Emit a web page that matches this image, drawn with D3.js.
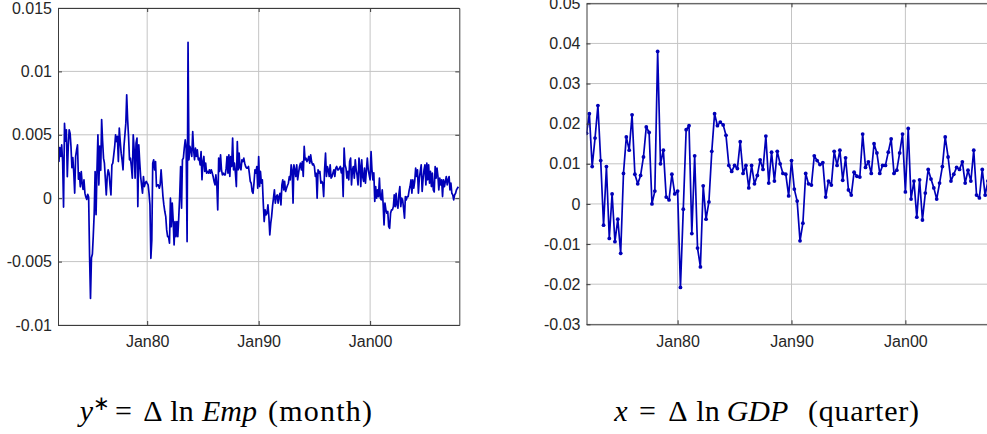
<!DOCTYPE html>
<html>
<head>
<meta charset="utf-8">
<script src="https://cdn.jsdelivr.net/npm/d3@7"></script>
<style>
  body { margin: 0; background: #fff; }
  svg { display: block; }
</style>
</head>
<body>
<svg id="chart" width="987" height="434"></svg>
<script>
// monthly log change of payroll employment, Jan 1972 .. Dec 2007 (one row per year)
var empGrowth = [
  0.0045, 0.0029, 0.0040, 0.0033, 0.0042, 0.0029, -0.0007, 0.0059, 0.0045, 0.0054, 0.0017, 0.0040,
  0.0054, 0.0051, 0.0041, 0.0024, 0.0032, 0.0020, 0.0004, 0.0033, 0.0038, 0.0042, 0.0015, 0.0020,
  0.0009, 0.0021, 0.0012, 0.0007, 0.00145, 0.0004, 0.0001, -0.0001, 0.0003, 0.0001, -0.0046, -0.0079,
  -0.0047, -0.0044, -0.0030, -0.0012, 0.0021, -0.0013, 0.0022, 0.0050, 0.00105, 0.0041, 0.0022, 0.0062,
  0.0045, 0.00316, 0.00276, 0.0015, 0.00026, 0.00171, 0.00224, 0.00197, 0.0010, 0.00026, 0.00263, 0.00276,
  0.00342, 0.00408, 0.0050, 0.00447, 0.00487, 0.00289, 0.00553, 0.00447, 0.00355, 0.0030, 0.00224, 0.00408,
  0.0050, 0.00592, 0.00816, 0.00618, 0.00487, 0.00303, 0.00316, 0.0025, 0.00158, 0.0050, 0.00382, 0.00158,
  0.00434, 0.00474, -0.00066, 0.00421, 0.00289, 0.00171, 0.00105, 0.00039, 0.00171, 0.00092, 0.0012, 0.00132,
  0.00118, 0.00105, 0.0004, -0.00053, -0.00474, -0.00329, 0.00276, 0.00303, 0.00224, 0.00289, 0.00092, 0.00105,
  0.00105, 0.00079, 0.00105, 0.00224, 0.0012, 0.00013, -0.00053, -0.00105, -0.00145, -0.0025, -0.00303, -0.00303,
  -0.00355, 0.0, -0.00224, -0.00039, -0.00171, -0.00368, -0.00184, -0.00303, -0.00184, -0.00303, -0.0015, 0.00013,
  0.0025, -0.00079, 0.00303, 0.00316, 0.00395, 0.00461, 0.0040, -0.00342, 0.0123, 0.00303, 0.00408, 0.00382,
  0.00329, 0.00526, 0.00382, 0.00303, 0.00395, 0.00329, 0.00382, 0.00303, 0.00316, 0.00263, 0.00368, 0.00145,
  0.00289, 0.00329, 0.00211, 0.00276, 0.00197, 0.00211, 0.00197, 0.00224, 0.00197, 0.00224, 0.0020, 0.00171,
  0.00132, 0.00105, 0.00184, 0.00105, -0.00092, 0.00316, 0.00211, 0.00342, 0.00224, 0.00184, 0.00197, 0.00184,
  0.00184, 0.00237, 0.00329, 0.00197, 0.00342, 0.00171, 0.00329, 0.0025, 0.00474, 0.00224, 0.00276, 0.0020,
  0.00092, 0.00447, 0.00224, 0.00355, 0.00237, 0.00224, 0.00303, 0.00289, 0.00316, 0.00276, 0.0025, 0.00237,
  0.00237, 0.0025, 0.00197, 0.00132, 0.00118, 0.00053, 0.00039, 0.0012, 0.00224, 0.00197, 0.0025, 0.00079,
  0.00329, 0.00092, 0.00211, 0.00118, 0.00145, -0.00039, -0.00184, -0.00092, -0.00132, -0.00118, -0.00053, -0.00145,
  -0.00289, -0.00197, -0.00145, -0.0006, 0.0, 0.00066, -0.00039, 0.00013, 0.00026, -0.00039, 0.00013, 0.00039,
  -0.00053, 0.00105, 0.00145, 0.00066, 0.00132, 0.00053, 0.00079, 0.0010, 0.00118, 0.00171, 0.00145, 0.00263,
  0.00224, -0.00039, 0.00263, 0.00224, 0.00171, 0.00263, 0.00145, 0.0020, 0.0025, 0.00276, 0.00224, 0.00289,
  0.00171, 0.00408, 0.00303, 0.00316, 0.00289, 0.00303, 0.00329, 0.00276, 0.00342, 0.00289, 0.00263, 0.0027,
  0.0025, 0.00171, 0.00197, 0.0, 0.00224, 0.00197, 0.00211, 0.00118, 0.00132, 0.00118, 0.00013, 0.00224,
  0.00355, 0.00171, 0.0025, 0.00224, 0.00171, 0.00263, 0.00158, 0.00171, 0.0020, 0.00224, 0.00171, 0.00237,
  0.0025, 0.00224, 0.00224, 0.00237, 0.0025, 0.0020, 0.00237, 0.00013, 0.00395, 0.00263, 0.00237, 0.00158,
  0.00211, 0.00145, 0.00289, 0.00316, 0.00105, 0.00224, 0.0025, 0.00158, 0.00303, 0.00224, 0.0018, 0.00105,
  0.00316, 0.0025, 0.00092, 0.00303, 0.00171, 0.00132, 0.00237, 0.00118, 0.0022, 0.00316, 0.00224, 0.00184,
  0.00145, 0.00368, 0.00224, 0.00145, 0.0020, -0.00026, 0.00092, 0.0, 0.00066, 0.00013, 0.00158, 0.0,
  -0.00013, 0.00066, -0.00039, -0.00211, -0.00039, -0.00092, -0.00118, -0.00105, -0.00224, -0.00237, -0.00118, -0.00092,
  -0.00092, -0.00066, 0.00026, -0.00066, 0.00039, -0.00053, -0.00079, 0.0003, 0.00092, -0.00066, 0.0, -0.00013,
  -0.00079, -0.00158, 0.00013, -0.00013, 0.00013, 0.00013, 0.0006, 0.00092, 0.00145, 0.00039, 0.00145, 0.00079,
  0.00132, 0.00237, 0.00171, 0.00224, 0.00039, 0.00158, 0.00211, 0.00263, 0.00053, 0.0015, 0.00224, 0.00263,
  0.00105, 0.00276, 0.00145, 0.00263, 0.00118, 0.00211, 0.00092, 0.00197, 0.00066, 0.0005, 0.0025, 0.00158,
  0.00237, 0.00171, 0.00066, 0.00158, 0.00105, 0.00145, 0.00013, 0.00145, 0.00092, 0.0013, 0.00171, 0.00105,
  0.00145, 0.00171, 0.00066, 0.0012, 0.00039, 0.00026, -0.00013, 0.00026, 0.00039, 0.00066, 0.00079, 0.0009
];

// quarterly log change of real GDP, 1972Q1 .. 2007Q4 (one row per year)
var gdpGrowth = [
  0.0176, 0.0225, 0.0093, 0.0164,
  0.0245, 0.0108, -0.0053, 0.0093,
  -0.0086, 0.0025, -0.0094, -0.0038,
  -0.0123, 0.0076, 0.0167, 0.0134,
  0.0222, 0.0074, 0.0050, 0.0071,
  0.0117, 0.0192, 0.0178, 0.0000,
  0.0032, 0.0380, 0.0100, 0.0134,
  0.0017, 0.0010, 0.0074, 0.0025,
  0.0032, -0.0208, -0.0013, 0.0185,
  0.0195, -0.0074, 0.0120, -0.0110,
  -0.0157, 0.0045, -0.0038, 0.0005,
  0.0131, 0.0225, 0.0195, 0.0204,
  0.0197, 0.0171, 0.0096, 0.0081,
  0.0096, 0.0088, 0.0155, 0.0076,
  0.0096, 0.0040, 0.0096, 0.0050,
  0.0071, 0.0110, 0.0086, 0.0169,
  0.0052, 0.0129, 0.0057, 0.0131,
  0.0100, 0.0076, 0.0074, 0.0020,
  0.0108, 0.0037, 0.0007, -0.0092,
  -0.0048, 0.0076, 0.0050, 0.0047,
  0.0120, 0.0108, 0.0098, 0.0103,
  0.0017, 0.0057, 0.0047, 0.0131,
  0.0096, 0.0134, 0.0059, 0.0115,
  0.0035, 0.0022, 0.0079, 0.0069,
  0.0067, 0.0174, 0.0091, 0.0105,
  0.0076, 0.0150, 0.0127, 0.0076,
  0.0096, 0.0096, 0.0129, 0.0162,
  0.0076, 0.0084, 0.0127, 0.0174,
  0.0030, 0.0188, 0.0012, 0.0057,
  -0.0033, 0.0060, -0.0040, 0.0027,
  0.0086, 0.0062, 0.0040, 0.0012,
  0.0052, 0.0093, 0.0167, 0.0117,
  0.0057, 0.0074, 0.0091, 0.0086,
  0.0105, 0.0052, 0.0084, 0.0057,
  0.0134, 0.0022, 0.0015, 0.0086,
  0.0022, 0.0057, 0.0054, 0.0062
];

var empTicks = [-0.01, -0.005, 0, 0.005, 0.01, 0.015];
var gdpTicks = [-0.03, -0.02, -0.01, 0, 0.01, 0.02, 0.03, 0.04, 0.05];
var yearTicks = [1980, 1990, 2000];
var startYear = 1972, endYear = 2008;

var svg = d3.select("#chart");
var lineColor = "#0000b8";
var axisColor = "#3c3c3c";
var gridColor = "#c4c4c4";

function drawPanel(values, stepMonths, yDomain, yTicks, box, markers) {
  var g = svg.append("g");

  var x = d3.scaleTime()
    .domain([new Date(startYear, 0, 1), new Date(endYear, 0, 1)])
    .range([box.left, box.right]);
  var y = d3.scaleLinear().domain(yDomain).range([box.bottom, box.top]);

  var pts = values.map(function(v, i) {
    return { date: d3.timeMonth.offset(new Date(startYear, 0, 1), i * stepMonths), value: v };
  });
  var xTickDates = yearTicks.map(function(yr) { return new Date(yr, 0, 1); });

  g.append("clipPath").attr("id", "clip" + box.left)
    .append("rect")
    .attr("x", box.left).attr("y", box.top)
    .attr("width", box.right - box.left).attr("height", box.bottom - box.top);

  // grid
  g.selectAll(".hgrid").data(yTicks).enter().append("line")
    .attr("x1", box.left).attr("x2", box.right)
    .attr("y1", function(d) { return y(d); }).attr("y2", function(d) { return y(d); })
    .attr("stroke", gridColor).attr("stroke-width", 1);
  g.selectAll(".vgrid").data(xTickDates).enter().append("line")
    .attr("x1", function(d) { return x(d); }).attr("x2", function(d) { return x(d); })
    .attr("y1", box.top).attr("y2", box.bottom)
    .attr("stroke", gridColor).attr("stroke-width", 1);

  // series
  var plot = g.append("g").attr("clip-path", "url(#clip" + box.left + ")");
  plot.append("path")
    .datum(pts)
    .attr("fill", "none")
    .attr("stroke", lineColor)
    .attr("stroke-width", 1.7)
    .attr("stroke-linejoin", "round")
    .attr("d", d3.line().x(function(d) { return x(d.date); }).y(function(d) { return y(d.value); }));

  if (markers) {
    plot.selectAll("circle").data(pts).enter().append("circle")
      .attr("cx", function(d) { return x(d.date); })
      .attr("cy", function(d) { return y(d.value); })
      .attr("r", 1.9)
      .attr("fill", lineColor);
  }

  // axes, ticks inside like matlab
  var fmt = function(d) { return String(d); };
  var left = g.append("g").attr("transform", "translate(" + box.left + ",0)")
    .call(d3.axisLeft(y).tickValues(yTicks).tickFormat(fmt).tickSizeInner(-4).tickSizeOuter(0).tickPadding(6));
  var right = g.append("g").attr("transform", "translate(" + box.right + ",0)")
    .call(d3.axisRight(y).tickValues(yTicks).tickFormat("").tickSizeInner(-4).tickSizeOuter(0));
  var bottom = g.append("g").attr("transform", "translate(0," + box.bottom + ")")
    .call(d3.axisBottom(x).tickValues(xTickDates).tickFormat(d3.timeFormat("%b%y")).tickSizeInner(-4).tickSizeOuter(0).tickPadding(11));
  var top = g.append("g").attr("transform", "translate(0," + box.top + ")")
    .call(d3.axisTop(x).tickValues(xTickDates).tickFormat("").tickSizeInner(-4).tickSizeOuter(0));

  [left, right, bottom, top].forEach(function(a) {
    a.select(".domain").attr("stroke", axisColor);
    a.selectAll(".tick line").attr("stroke", axisColor);
    a.selectAll("text")
      .attr("fill", "#262626")
      .style("font-family", "'Liberation Sans', Arial, sans-serif")
      .style("font-size", "16px");
  });
}

drawPanel(empGrowth, 1, [-0.01, 0.015], empTicks,
  { left: 58, right: 459.3, top: 8, bottom: 325 }, false);
drawPanel(gdpGrowth, 3, [-0.03, 0.05], gdpTicks,
  { left: 586.5, right: 996.5, top: 3.3, bottom: 324.3 }, true);

// captions, typeset piece by piece like the latex formula
function caption(pieces) {
  var g = svg.append("g")
    .attr("font-family", "'Liberation Serif', 'Times New Roman', serif")
    .attr("fill", "#000");
  pieces.forEach(function(p) {
    var t = g.append("text")
      .attr("y", 421 - (p.raise || 0))
      .attr("font-size", p.size || 30)
      .text(p.t);
    if (p.italic) t.attr("font-style", "italic");
    if (p.stretch) {
      t.attr("x", p.x).attr("textLength", p.w).attr("lengthAdjust", "spacing");
    } else {
      t.attr("x", p.x + p.w / 2).attr("text-anchor", "middle");
    }
  });
}

caption([
  { t: "y", x: 79, w: 15, italic: true },
  { t: "\u2217", x: 96, w: 11, raise: 11, size: 20 },
  { t: "=", x: 112, w: 23 },
  { t: "\u0394", x: 141, w: 24 },
  { t: "ln", x: 170, w: 24 },
  { t: "Emp", x: 199, w: 61, italic: true },
  { t: "(month)", x: 268, w: 104, stretch: true }
]);
caption([
  { t: "x", x: 613, w: 16, italic: true },
  { t: "=", x: 636, w: 23 },
  { t: "\u0394", x: 666, w: 24 },
  { t: "ln", x: 696, w: 24 },
  { t: "GDP", x: 725, w: 65, italic: true },
  { t: "(quarter)", x: 808, w: 111, stretch: true }
]);
</script>
</body>
</html>
